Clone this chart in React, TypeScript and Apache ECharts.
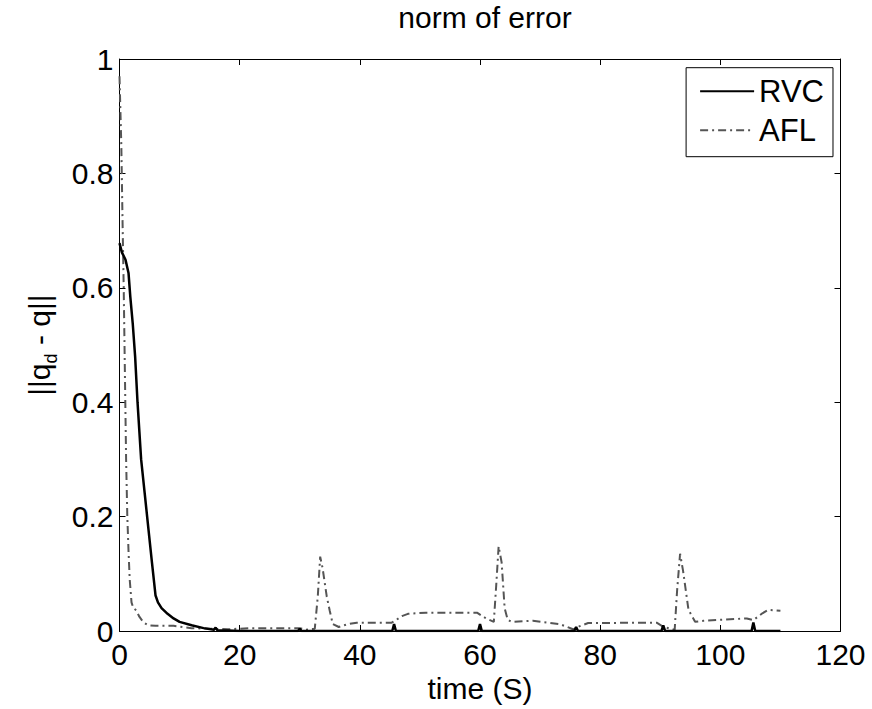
import React, { useEffect, useRef } from "react";
import * as echarts from "echarts";

const xTicks = [0, 20, 40, 60, 80, 100, 120];
const yTicks = [0, 0.2, 0.4, 0.6, 0.8, 1];

const rvcTime = [0, 0.4, 1.0, 1.5, 1.8, 2.2, 2.6, 3.0, 3.6, 4.2, 4.8, 5.4, 6.0, 6.4, 7.0, 8.0, 9.0, 10.0, 12.0, 14.0, 15.7, 16.0, 16.3, 18.0, 20.0,
  29.7, 30.0, 30.3, 45.4, 45.7, 46.0, 59.7, 60.0, 60.3, 75.7, 76.0, 76.3, 90.2, 90.5, 90.8, 105.2, 105.5, 105.8, 110.0];
const rvcValue = [0.678, 0.662, 0.649, 0.626, 0.584, 0.538, 0.48, 0.40, 0.30, 0.24, 0.18, 0.12, 0.062, 0.05, 0.04, 0.03, 0.022, 0.016, 0.01, 0.005, 0.002, 0.006, 0.001, 0.001, 0,
  0, 0.004, 0, 0, 0.012, 0, 0, 0.012, 0, 0, 0.007, 0, 0, 0.01, 0, 0, 0.015, 0, 0];

const aflTime = [0, 0.3, 0.5, 0.7, 0.9, 1.1, 1.3, 1.5, 1.7, 2.0, 2.3, 2.8, 3.3, 4.0, 4.8, 6.0, 9.0, 12.0, 15.0, 18.0, 20.0, 22.0, 25.0, 28.0, 30.0, 31.0, 32.5,
  33.0, 33.4, 33.8, 34.5, 35.0, 35.5, 36.5, 38.0, 39.5, 45.3, 46.0, 47.0, 48.0, 51.0, 59.5, 61.0, 62.3,
  62.7, 63.1, 63.6, 64.1, 64.6, 65.2, 68.8, 73.3, 75.5, 76.5, 78.0, 89.4, 90.5, 92.4,
  92.8, 93.3, 93.8, 94.7, 95.8, 97.2, 104.4, 105.5, 107.0, 108.0, 110.0];
const aflValue = [0.97, 0.85, 0.72, 0.6, 0.45, 0.3, 0.2, 0.14, 0.09, 0.05, 0.04, 0.036, 0.025, 0.015, 0.01, 0.009, 0.009, 0.005, 0.004, 0.003, 0.004, 0.005, 0.005, 0.005, 0.005, 0.002, 0.004,
  0.06, 0.13, 0.11, 0.06, 0.035, 0.012, 0.007, 0.012, 0.0145, 0.0145, 0.019, 0.026, 0.03, 0.032, 0.032, 0.022, 0.016,
  0.08, 0.148, 0.12, 0.04, 0.02, 0.016, 0.018, 0.012, 0.003, 0.008, 0.014, 0.0145, 0.0075, 0.002,
  0.07, 0.135, 0.105, 0.037, 0.016, 0.018, 0.022, 0.019, 0.031, 0.037, 0.0355];

const FONT = "Liberation Sans, Arial, sans-serif";

export default function App() {
  const ref = useRef<HTMLDivElement>(null);
  useEffect(() => {
    if (!ref.current) return;
    const chart = echarts.init(ref.current, undefined, { renderer: "svg" });
    const rvc = rvcTime.map((t, i) => [t, rvcValue[i]]);
    const afl = aflTime.map((t, i) => [t, aflValue[i]]);
    const axisCommon = {
      min: 0,
      splitLine: { show: false },
      axisLine: { show: true, onZero: false, lineStyle: { color: "#000", width: 1 } },
      axisTick: { show: true, inside: true, length: 6, lineStyle: { color: "#000" } },
    };
    chart.setOption({
      animation: false,
      backgroundColor: "#fff",
      textStyle: { fontFamily: FONT },
      title: {
        text: "norm of error",
        left: 480,
        textAlign: "center",
        top: -3,
        textStyle: { fontFamily: FONT, fontSize: 30, fontWeight: "normal", color: "#000" },
      },
      grid: { left: 119.5, right: 31.5, top: 59, bottom: 78, containLabel: false },
      legend: {
        orient: "vertical",
        right: 39,
        top: 67.7,
        padding: [8, 9, 11, 13],
        borderColor: "#000",
        borderWidth: 1,
        backgroundColor: "#fff",
        itemWidth: 54,
        itemHeight: 14,
        itemGap: 8,
        itemStyle: { opacity: 0 },
        textStyle: { fontFamily: FONT, fontSize: 31, color: "#000", lineHeight: 30 },
        data: ["RVC", "AFL"],
      },
      xAxis: [
        {
          ...axisCommon,
          type: "value",
          max: 120,
          interval: 20,
          position: "bottom",
          axisLabel: { fontFamily: FONT, fontSize: 30, color: "#000", margin: 8 },
          name: "time (S)",
          nameLocation: "middle",
          nameGap: 40,
          nameTextStyle: { fontFamily: FONT, fontSize: 30, color: "#000" },
        },
        {
          ...axisCommon,
          type: "value",
          max: 120,
          interval: 20,
          position: "top",
          axisLabel: { show: false },
        },
      ],
      yAxis: [
        {
          ...axisCommon,
          type: "value",
          max: 1,
          interval: 0.2,
          position: "left",
          axisLabel: { fontFamily: FONT, fontSize: 30, color: "#000", margin: 6 },
          name: "{m|||q}{sub|d}{m| - q||}{sp| }",
          nameLocation: "middle",
          nameGap: 60,
          nameRotate: 90,
          nameTextStyle: {
            fontFamily: FONT, fontSize: 30, color: "#000",
            rich: {
              m: { fontFamily: FONT, fontSize: 30, color: "#000", lineHeight: 30, verticalAlign: "middle" },
              sub: { fontFamily: FONT, fontSize: 18, color: "#000", lineHeight: 18, verticalAlign: "bottom" },
              sp: { fontFamily: FONT, fontSize: 1, lineHeight: 40, verticalAlign: "middle" },
            },
          },
        },
        {
          ...axisCommon,
          type: "value",
          max: 1,
          interval: 0.2,
          position: "right",
          axisLabel: { show: false },
        },
      ],
      series: [
        {
          name: "RVC",
          type: "line",
          data: rvc,
          symbol: "none",
          xAxisIndex: 0,
          yAxisIndex: 0,
          lineStyle: { color: "#000", width: 2.5 },
          itemStyle: { color: "#000" },
          z: 3,
        },
        {
          name: "AFL",
          type: "line",
          data: afl,
          symbol: "none",
          xAxisIndex: 0,
          yAxisIndex: 0,
          lineStyle: { color: "#555", width: 2, type: [8, 4, 2, 4] },
          itemStyle: { color: "#555" },
          z: 2,
        },
      ],
    });
    return () => chart.dispose();
  }, []);
  return <div ref={ref} style={{ position: "absolute", left: 0, top: 0, width: 872, height: 709 }} />;
}
